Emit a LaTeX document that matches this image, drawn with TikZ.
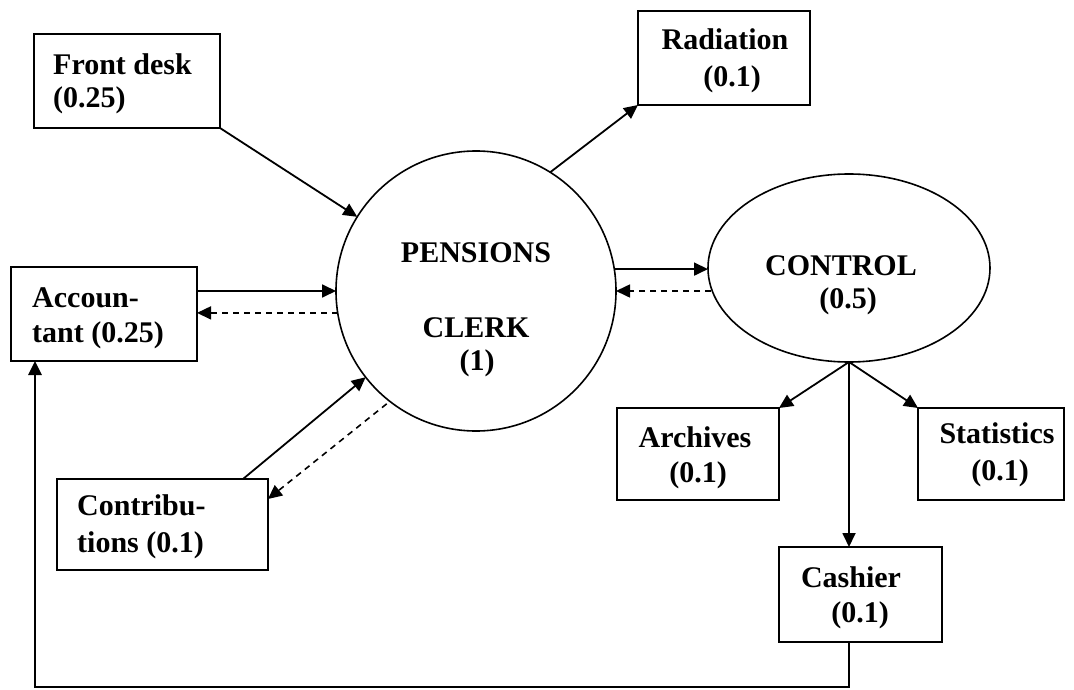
\documentclass[tikz,border=0pt]{standalone}
\usepackage{fontspec}
\setmainfont{Liberation Serif}
\usetikzlibrary{arrows.meta,shapes.geometric,calc}
\tikzset{
  box/.style={draw, rectangle, line width=1.7pt, inner sep=0pt, outer sep=0pt},
  lbl/.style={font=\bfseries\fontsize{30}{35}\selectfont, inner sep=0pt, text=black},
  arr/.style={line width=1.8pt, -{Triangle[length=14pt,width=13pt]}},
  dasharr/.style={line width=1.6pt, dash pattern=on 6pt off 5pt, -{Triangle[length=14pt,width=13pt]}},
}
\begin{document}
\begin{tikzpicture}[x=1pt,y=-1pt]
\useasboundingbox (0,0) rectangle (1074,690);
% shapes
\node[draw, circle, line width=1.6pt, minimum size=280pt, inner sep=0pt, outer sep=0pt] (pc) at (476,291) {};
\node[draw, ellipse, line width=1.6pt, minimum width=282pt, minimum height=188pt, inner sep=0pt, outer sep=0pt] (ctrl) at (849,268) {};
\node[box, minimum width=186pt, minimum height=94pt] (front) at (127,81) {};
\node[box, minimum width=172pt, minimum height=94pt] (rad) at (724,58) {};
\node[box, minimum width=186pt, minimum height=94pt] (acc) at (104,314) {};
\node[box, minimum width=211pt, minimum height=91pt] (contrib) at (162.5,524.5) {};
\node[box, minimum width=162pt, minimum height=92pt] (arch) at (698,454) {};
\node[box, minimum width=146pt, minimum height=92pt] (stats) at (991,454) {};
\node[box, minimum width=163pt, minimum height=95pt] (cash) at (860.5,594.5) {};
% texts
\node[lbl, anchor=base west] (t1) at (53,75) {Front desk};
\node[lbl, anchor=base west] (t2) at (53,108) {(0.25)};
\node[lbl, anchor=base] (t3) at (725,50) {Radiation};
\node[lbl, anchor=base] (t4) at (732,87) {(0.1)};
\node[lbl, anchor=base] (t5) at (476,262) {PENSIONS};
\node[lbl, anchor=base] (t6) at (476,337) {CLERK};
\node[lbl, anchor=base] (t7) at (477,370) {(1)};
\node[lbl, anchor=base] (t8) at (841,275) {CONTROL};
\node[lbl, anchor=base] (t9) at (848,308) {(0.5)};
\node[lbl, anchor=base west] (t10) at (32,307) {Accoun-};
\node[lbl, anchor=base west] (t11) at (32,342) {tant (0.25)};
\node[lbl, anchor=base west] (t12) at (77,515) {Contribu-};
\node[lbl, anchor=base west] (t13) at (77,552) {tions (0.1)};
\node[lbl, anchor=base] (t14) at (695,447) {Archives};
\node[lbl, anchor=base] (t15) at (698,482) {(0.1)};
\node[lbl, anchor=base] (t16) at (997,443) {Statistics};
\node[lbl, anchor=base] (t17) at (1000,480) {(0.1)};
\node[lbl, anchor=base] (t18) at (851,587) {Cashier};
\node[lbl, anchor=base] (t19) at (860,622) {(0.1)};
% connectors
\draw[arr] (front.south east) -- (pc.148);
\draw[arr] (pc.58) -- (rad.south west);
\draw[arr] (acc.east |- pc.west) -- (pc.west);
\draw[dasharr] (pc.189.5) -- (acc.east |- pc.189.5);
\draw[arr] ([xshift=80.5pt]contrib.north) -- (pc.218);
\draw[dasharr, shorten <=4pt] (pc.232.5) -- ([yshift=25.5pt]contrib.east);
\draw[arr] (pc.9.5) -- (ctrl.west |- pc.9.5);
\draw[dasharr] ([xshift=3pt]ctrl.west |- pc.east) -- (pc.east);
\draw[arr] (ctrl.south) -- (arch.north east);
\draw[arr] (ctrl.south) -- (stats.north west);
\draw[arr] (ctrl.south) -- (ctrl.south |- cash.north);
\coordinate (loopc) at (35,687);
\draw[arr, line width=2.6pt] (ctrl.south |- cash.south) |- (loopc) -- (loopc |- acc.south);
\end{tikzpicture}
\end{document}
